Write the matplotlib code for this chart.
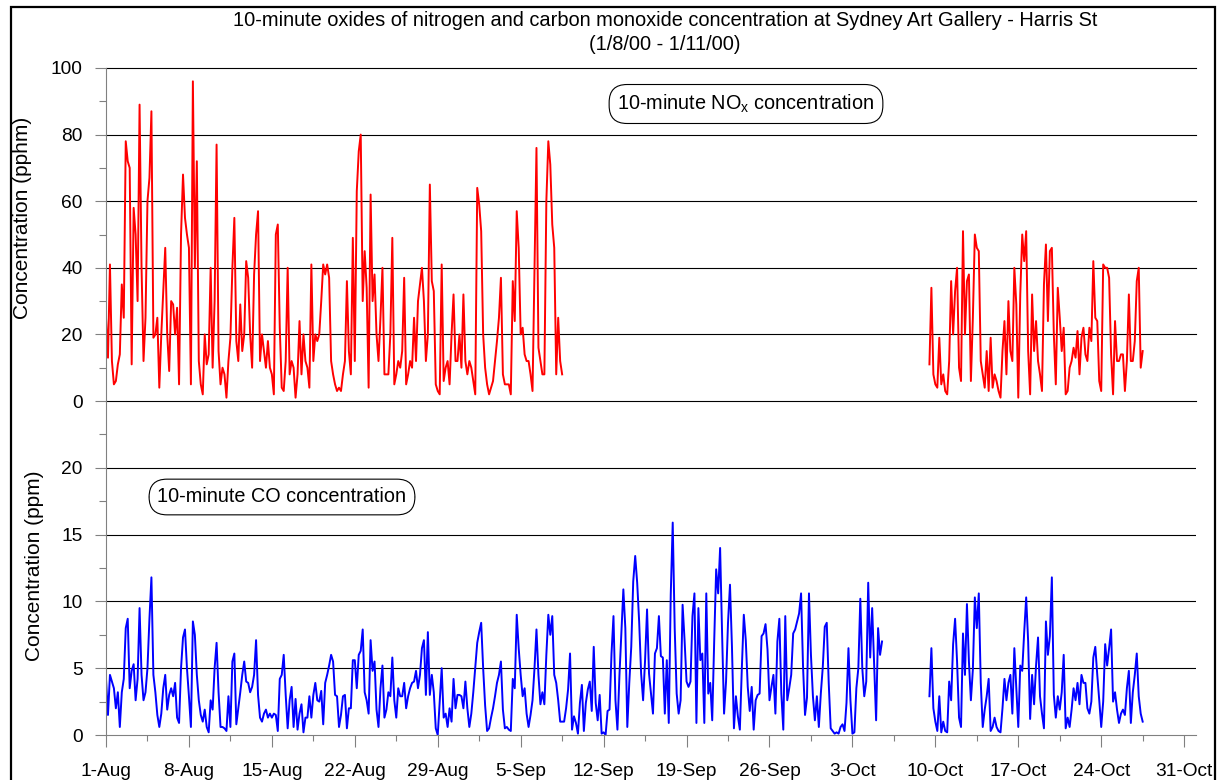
import matplotlib
matplotlib.use("Agg")
import matplotlib.pyplot as plt
import matplotlib.dates as mdates
from matplotlib.ticker import FixedLocator, MultipleLocator, FuncFormatter
from matplotlib.patches import Rectangle
import pandas as pd

plt.rcParams["font.family"] = ["Liberation Sans", "DejaVu Sans"]
plt.rcParams["mathtext.fontset"] = "custom"
plt.rcParams["mathtext.rm"] = "Liberation Sans"

# 4-hourly readings, NOx (pphm), from 1-Aug-2000 00:00
nox_start_1 = "2000-08-01 00:00"
nox_values_1 = [
    25, 13, 41, 12, 5, 6,
    11, 14, 35, 25, 78, 72,
    70, 11, 58, 50, 30, 89,
    40, 12, 25, 60, 67, 87,
    19, 20, 25, 4, 20, 33,
    46, 20, 9, 30, 29, 20,
    28, 5, 50, 68, 55, 50,
    46, 5, 96, 40, 72, 12,
    5, 2, 20, 11, 14, 40,
    10, 30, 77, 15, 5, 10,
    8, 1, 12, 19, 40, 55,
    18, 12, 29, 15, 20, 42,
    37, 20, 10, 38, 50, 57,
    12, 20, 15, 10, 18, 10,
    8, 2, 50, 53, 22, 4,
    3, 12, 40, 8, 12, 10,
    1, 8, 24, 8, 20, 12,
    10, 4, 41, 12, 20, 18,
    20, 30, 41, 38, 41, 37,
    12, 8, 5, 3, 4, 3,
    8, 12, 36, 15, 8, 49,
    12, 63, 75, 80, 30, 45,
    34, 4, 62, 30, 38, 20,
    12, 25, 40, 8, 8, 8,
    20, 49, 5, 8, 12, 10,
    15, 37, 5, 8, 12, 10,
    25, 12, 30, 35, 40, 30,
    12, 20, 65, 36, 33, 5,
    3, 2, 41, 6, 10, 12,
    5, 20, 32, 12, 12, 20,
    10, 32, 12, 8, 12, 10,
    6, 2, 64, 59, 51, 20,
    10, 5, 2, 4, 6, 12,
    18, 25, 37, 8, 5, 5,
    5, 2, 36, 24, 57, 46,
    20, 22, 14, 12, 12, 8,
    3, 40, 76, 16, 12, 8,
    8, 60, 78, 71, 53, 46,
    8, 25, 12, 8,
]

nox_start_2 = "2000-10-09 12:00"
nox_values_2 = [
    11, 34, 8,
    5, 4, 19, 5, 8, 3,
    2, 12, 36, 20, 33, 40,
    10, 6, 51, 20, 36, 38,
    6, 25, 50, 46, 45, 12,
    8, 4, 15, 3, 19, 4,
    8, 6, 3, 1, 15, 24,
    8, 30, 15, 12, 40, 29,
    1, 32, 50, 42, 51, 15,
    2, 32, 15, 24, 12, 8,
    3, 35, 47, 24, 45, 46,
    20, 5, 34, 25, 15, 22,
    2, 3, 10, 12, 16, 13,
    21, 8, 19, 22, 14, 12,
    22, 18, 42, 25, 24, 6,
    3, 41, 40, 40, 37, 14,
    2, 24, 12, 12, 14, 14,
    3, 12, 32, 12, 12, 18,
    36, 40, 10, 15,
]

# 4-hourly readings, CO (ppm)
co_start_1 = "2000-08-01 00:00"
co_values_1 = [
    4.2, 1.5, 4.5, 4, 3.5, 2,
    3.2, 0.6, 3.2, 4.2, 8, 8.7,
    3.5, 4.8, 5.3, 2.6, 4.2, 9.5,
    4.5, 2.6, 3.2, 5, 8.7, 11.8,
    4.5, 3.2, 1.5, 0.6, 1.6, 3.5,
    4.5, 1.9, 3, 3.5, 2.9, 3.9,
    1.3, 0.9, 5, 7.3, 7.9, 5,
    2.9, 0.6, 8.5, 7.5, 4.5, 2.6,
    1.5, 1, 1.9, 0.6, 0.2, 2.6,
    1.9, 5, 6.9, 3.2, 0.6, 0.6,
    0.5, 0.3, 2.9, 0.6, 5.5, 6.1,
    0.8, 2, 3.2, 4.5, 5.5, 4,
    3.9, 3.2, 3.6, 4.5, 7.1, 3,
    1.3, 1, 1.6, 1.9, 1.3, 1.6,
    1.3, 1.6, 1.5, 0.3, 4.2, 4.5,
    6, 3, 0.5, 2.6, 3.6, 0.6,
    2.7, 0.4, 1.6, 2.3, 0.2, 1.3,
    1.3, 2.9, 1.3, 3, 3.9, 2.6,
    2.5, 3.3, 0.8, 3.9, 4.5, 5.2,
    6, 5.5, 3, 2.9, 0.6, 1.5,
    2.9, 3, 0.5, 2, 2, 5.6,
    5.6, 3.5, 6, 6.3, 7.9, 3.2,
    2.6, 1.6, 7.1, 4.8, 5.5, 1.9,
    0.6, 3.5, 5.2, 1.3, 1.9, 3.2,
    2.9, 5.8, 2.6, 1.3, 3.5, 2.9,
    2.9, 3.9, 2, 2.9, 3.5, 3.9,
    4, 4.8, 3.5, 4.5, 6.5, 7.1,
    3, 7.7, 3, 4.5, 3.2, 0.5,
    0, 2.5, 5, 1.3, 1.6, 0.6,
    2, 1, 4.2, 2, 3, 3,
    2.9, 2, 4, 2, 0.6, 1.6,
    3.2, 5, 6.9, 7.7, 8.4, 5,
    2.2, 0.3, 0.5, 1.3, 2, 2.9,
    3.9, 4.5, 5.5, 1.9, 0.5, 0.6,
    0.4, 0.3, 4.2, 3.5, 9, 6.5,
    4.5, 2.9, 3.5, 1.6, 0.6, 1.5,
    2.6, 5, 7.9, 4.5, 2.3, 3.2,
    2.3, 6, 9, 7.5, 8.9, 4.5,
    3.9, 2.6, 1, 1, 1, 2,
    3.4, 6.1, 0.4, 1.4, 0.9, 0.1,
    2.4, 3.75, 0.3, 2.4, 3.4, 4,
    1.8, 6.6, 2.4, 1.1, 3, 0.1,
    0.2, 0, 1.8, 1.9, 6.1, 8.9,
    2.6, 0.4, 4.4, 7.6, 10.9, 8,
    0.6, 3.9, 6.6, 11.5, 13.4, 11.4,
    8.5, 4.6, 2.6, 5.6, 9.4, 4.6,
    3.1, 1.6, 6.1, 6.5, 8.9, 5.9,
    5.8, 1.6, 5.6, 0.9, 10.5, 15.9,
    8, 3.1, 1.6, 2.6, 9.75, 7.1,
    4, 3.6, 4, 8.9, 10.6, 0.9,
    9.5, 5.6, 6.1, 0.9, 10.6, 3.1,
    3.9, 1.1, 7, 12.4, 10.6, 14,
    7.6, 1.6, 4, 8.4, 11.25, 6.6,
    0.5, 2.9, 1.4, 0.4, 5, 9,
    7.1, 3.6, 1.8, 3.6, 0.4, 2.6,
    3, 3.1, 7.4, 7.6, 8.3, 6.4,
    2.6, 3.6, 4.5, 1.6, 7, 8.7,
    3.1, 0.4, 8.9, 2.6, 3.5, 4.5,
    7.6, 7.9, 8.5, 9.1, 10.6, 5.1,
    1.5, 2.8, 10.6, 6, 2.9, 1.1,
    2.9, 0.6, 3.1, 5.1, 8.1, 8.4,
    3.9, 0.5, 0.3, 0.1, 0.2, 0.1,
    0.6, 0.8, 0.3, 2.4, 6.5, 2.6,
    0.1, 0.2, 3.5, 5, 10.2, 5,
    2.9, 4, 11.4, 5.8, 9.5, 5.4,
    1.1, 8, 6, 7,
]

co_start_2 = "2000-10-09 12:00"
co_values_2 = [
    2.9, 6.5, 2,
    1, 0.3, 2.9, 0.2, 1, 0.3,
    0.2, 4, 2.6, 6.8, 8.7, 5.5,
    1.3, 0.6, 7.6, 4.5, 9.8, 5.5,
    2.6, 4.9, 10.3, 8, 10.6, 3.9,
    0.6, 1.9, 2.9, 4.2, 0.3, 0.6,
    1.3, 0.6, 0.3, 0.2, 2, 4.2,
    2.6, 3.9, 4.5, 1.6, 6.5, 3.5,
    0.6, 5.2, 4.8, 7.7, 10.3, 7,
    1.2, 4.5, 2.3, 5.2, 7.3, 2.9,
    1.6, 0.5, 8.5, 6, 7.4, 11.8,
    3, 1.3, 2.9, 1.9, 3.2, 6,
    0.5, 1.3, 0.6, 1.9, 3.5, 2.6,
    3.9, 2.3, 4.5, 3.9, 3.9, 2,
    1.6, 2.5, 5.8, 6.6, 4.5, 2.6,
    0.6, 2.5, 6.8, 5.2, 6.5, 7.9,
    2.5, 3.2, 1.9, 0.9, 1.6, 1.9,
    1.5, 3.5, 4.8, 0.9, 3.2, 4.5,
    6.1, 2.9, 1.6, 1,
]

nox_ticks = [0, 20, 40, 60, 80, 100]
co_ticks = [0, 5, 10, 15, 20]


def times(start, values):
    return pd.date_range(start, periods=len(values), freq="4h")


W, H = 1219, 780
fig = plt.figure(figsize=(W / 100, H / 100), dpi=100)

left = 106 / W
width = (1196 - 106) / W
ax_top = fig.add_axes([left, (H - 401) / H, width, 333 / H])
ax_bot = fig.add_axes([left, (H - 735) / H, width, 334 / H], sharex=ax_top)
ax_bot.patch.set_visible(False)

ax_top.plot(times(nox_start_1, nox_values_1), nox_values_1, color="#FF0000", lw=1.4)
ax_top.plot(times(nox_start_2, nox_values_2), nox_values_2, color="#FF0000", lw=1.4)
ax_bot.plot(times(co_start_1, co_values_1), co_values_1, color="#0000FF", lw=1.4)
ax_bot.plot(times(co_start_2, co_values_2), co_values_2, color="#0000FF", lw=1.4)

ax_top.set_xlim(pd.Timestamp("2000-08-01"), pd.Timestamp("2000-11-01"))
ax_top.set_ylim(0, 100)
ax_bot.set_ylim(0, 25)

gray = "#808080"
for ax in (ax_top, ax_bot):
    for s in ("top", "right"):
        ax.spines[s].set_visible(False)
    ax.spines["left"].set_color(gray)
    ax.tick_params(axis="y", which="major", length=8, width=0.8, color=gray,
                   labelsize=13.8, pad=9)
    ax.tick_params(axis="y", which="minor", length=5, width=0.8, color=gray)

ax_top.spines["bottom"].set_visible(False)
ax_bot.spines["bottom"].set_color(gray)

ax_top.yaxis.set_major_locator(FixedLocator(nox_ticks))
ax_top.yaxis.set_minor_locator(MultipleLocator(10))
for v in nox_ticks:
    ax_top.axhline(v, color="black", lw=0.8, clip_on=False, zorder=0.5)

ax_bot.yaxis.set_major_locator(FixedLocator(co_ticks))
ax_bot.yaxis.set_minor_locator(FixedLocator([2.5, 7.5, 12.5, 17.5, 22.5]))
for v in co_ticks[1:]:
    ax_bot.axhline(v, color="black", lw=0.8, zorder=0.5)

ax_top.tick_params(axis="x", which="both", bottom=False, labelbottom=False)

major_days = pd.date_range("2000-08-01", "2000-10-31", freq="7D")
minor_days = pd.date_range("2000-08-04 12:00", "2000-10-31", freq="7D")
ax_bot.xaxis.set_major_locator(FixedLocator(mdates.date2num(major_days)))
ax_bot.xaxis.set_minor_locator(FixedLocator(mdates.date2num(minor_days)))
ax_bot.xaxis.set_major_formatter(
    FuncFormatter(lambda x, pos: "%d-%s" % (mdates.num2date(x).day,
                                            mdates.num2date(x).strftime("%b"))))
ax_bot.tick_params(axis="x", which="major", length=8.5, width=0.8, color=gray,
                   labelsize=13.8, pad=12)
ax_bot.tick_params(axis="x", which="minor", length=4.5, width=0.8, color=gray)

fig.text(665 / W, 1 - 20 / H,
         "10-minute oxides of nitrogen and carbon monoxide concentration at "
         "Sydney Art Gallery - Harris St",
         ha="center", va="center", fontsize=14.4)
fig.text(665 / W, 1 - 44 / H, "(1/8/00 - 1/11/00)",
         ha="center", va="center", fontsize=14.4)

fig.text(23 / W, 1 - 218 / H, "Concentration (pphm)", rotation=90,
         ha="center", va="center", fontsize=15)
fig.text(35 / W, 1 - 566 / H, "Concentration (ppm)", rotation=90,
         ha="center", va="center", fontsize=15)

box = dict(boxstyle="round,pad=0.42,rounding_size=0.9", fc="white",
           ec="black", lw=0.8)
fig.text(746 / W, 1 - 104 / H, r"10-minute NO$_{\mathregular{x}}$ concentration",
         ha="center", va="center", fontsize=14.3, bbox=box)
fig.text(282 / W, 1 - 497 / H, "10-minute CO concentration",
         ha="center", va="center", fontsize=14.3, bbox=box)

fig.patches.append(Rectangle((11 / W, -0.05), (1215 - 11) / W, 1.05 - 7 / H,
                             transform=fig.transFigure, fill=False,
                             ec="black", lw=1.6))

fig.savefig("out.png", dpi=100)
